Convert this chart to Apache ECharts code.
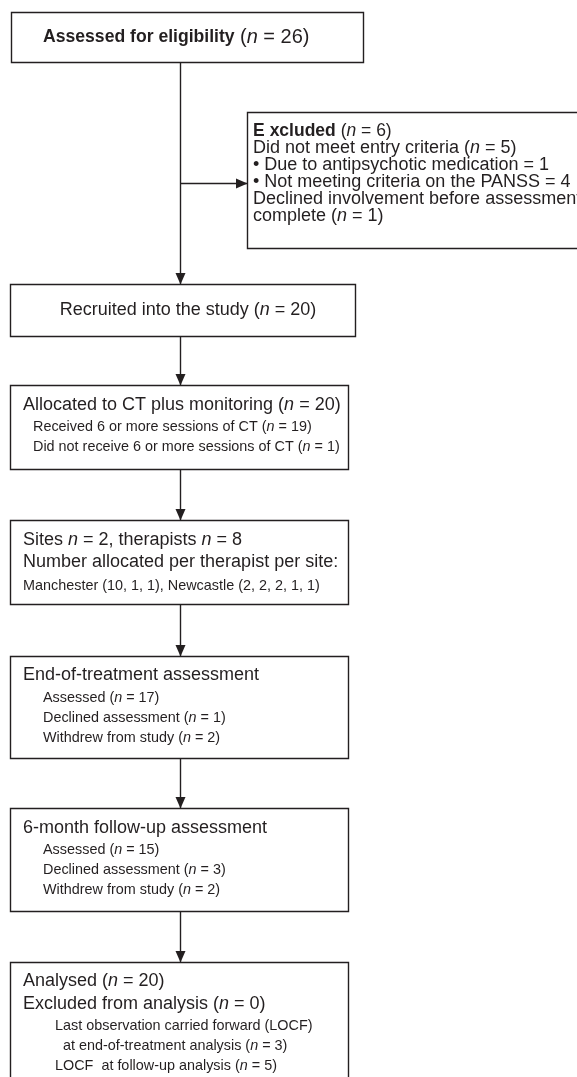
<!DOCTYPE html>
<html>
<head>
<meta charset="utf-8">
<script src="https://cdn.jsdelivr.net/npm/echarts@6/dist/echarts.min.js"></script>
<style>
  html, body { margin: 0; padding: 0; background: #fff; }
  #main { width: 577px; height: 1077px; }
</style>
</head>
<body>
<div id="main"></div>
<script>
// counts
var stageTitles = ['Assessed for eligibility', 'Recruited into the study', 'Allocated to CT plus monitoring',
  'End-of-treatment assessment', '6-month follow-up assessment', 'Analysed', 'Excluded from analysis']
var stageN = [26, 20, 20, null, null, 20, 0]
var excludedN = 6
var excludedReasons = ['Did not meet entry criteria', 'Due to antipsychotic medication',
  'Not meeting criteria on the PANSS', 'Declined involvement before assessment', 'complete']
var excludedReasonN = [5, 1, 4, null, 1]
var ctSessions = ['Received 6 or more sessions of CT', 'Did not receive 6 or more sessions of CT']
var ctSessionsN = [19, 1]
var sitesN = 2
var therapistsN = 8
var siteNames = ['Manchester', 'Newcastle']
var perTherapist = [[10, 1, 1], [2, 2, 2, 1, 1]]
var assessLabels = ['Assessed', 'Declined assessment', 'Withdrew from study']
var endTreatmentN = [17, 1, 2]
var followUpN = [15, 3, 2]
var locfLabels = ['Last observation carried forward (LOCF)', 'at end-of-treatment analysis', 'LOCF  at follow-up analysis']
var locfN = [null, 3, 5]

var FONT = '"Liberation Sans", Arial, sans-serif'
var INK = '#231f20'
var LW = 1.4

function nEq (v) { return '({i|n} = ' + v + ')' }

function richFor (size) {
  return {
    i: { fontStyle: 'italic', fontSize: size, fontFamily: FONT, fill: INK },
    b: { fontWeight: 'bold', fontSize: size, fontFamily: FONT, fill: INK }
  }
}

function label (x, y, text, size, align, weight) {
  return {
    type: 'text', x: x, y: y, z: 10,
    style: {
      text: text, fontSize: size, fontFamily: FONT, fill: INK,
      fontWeight: weight || 'normal',
      align: align || 'left', verticalAlign: 'middle', rich: richFor(size)
    }
  }
}

function box (x, y, w, h) {
  return {
    type: 'rect', z: 5,
    shape: { x: x + 0.5, y: y + 0.5, width: w, height: h },
    style: { fill: '#fff', stroke: INK, lineWidth: LW }
  }
}

function arrow (x1, y1, x2, y2) {
  var els = [{
    type: 'line', z: 4,
    shape: { x1: x1 + 0.5, y1: y1 + 0.5, x2: x2 + 0.5, y2: y2 + 0.5 },
    style: { stroke: INK, lineWidth: LW }
  }]
  var pts
  if (x1 === x2) {
    pts = [[x2 + 0.5, y2 + 0.5], [x2 - 4.5, y2 - 11], [x2 + 5.5, y2 - 11]]
  } else {
    pts = [[x2 + 0.5, y2 + 0.5], [x2 - 11, y2 - 4.5], [x2 - 11, y2 + 5.5]]
  }
  els.push({ type: 'polygon', z: 6, shape: { points: pts }, style: { fill: INK } })
  return els
}

var g = []
var cx = 180
var big = 18
var small = 14.4

// top box
g.push(box(11, 12, 352, 50))
g.push(label(43, 37, stageTitles[0], 17.6, 'left', 'bold'))
g.push(label(240, 37, nEq(stageN[0]), 20))

// excluded box
g.push(box(247, 112, 360, 136))
g.push(label(253, 131, '{b|E\u2009\u200axcluded} ' + nEq(excludedN), 17.5))
var exY = [148, 165, 182, 199, 216]
excludedReasons.forEach(function (t, k) {
  var s = t
  if (k === 1 || k === 2) s = '\u2022 ' + t + ' = ' + excludedReasonN[k]
  else if (excludedReasonN[k] != null) s = t + ' ' + nEq(excludedReasonN[k])
  g.push(label(253, exY[k], s, 18))
})
g = g.concat(arrow(cx, 183, 247, 183))
g = g.concat(arrow(cx, 62, cx, 284))

// recruited
g.push(box(10, 284, 345, 52))
g.push(label(188, 310, stageTitles[1] + ' ' + nEq(stageN[1]), big, 'center'))
g = g.concat(arrow(cx, 336, cx, 385))

// allocated
g.push(box(10, 385, 338, 84))
g.push(label(23, 405, stageTitles[2] + ' ' + nEq(stageN[2]), big))
ctSessions.forEach(function (t, k) {
  g.push(label(33, 427 + k * 20, t + ' ' + nEq(ctSessionsN[k]), small))
})
g = g.concat(arrow(cx, 469, cx, 520))

// sites / therapists
g.push(box(10, 520, 338, 84))
g.push(label(23, 540, 'Sites {i|n} = ' + sitesN + ', therapists {i|n} = ' + therapistsN, big))
g.push(label(23, 562, 'Number allocated per therapist per site:', big))
g.push(label(23, 586, siteNames.map(function (s, k) {
  return s + ' (' + perTherapist[k].join(', ') + ')'
}).join(', '), small))
g = g.concat(arrow(cx, 604, cx, 656))

// end of treatment
g.push(box(10, 656, 338, 102))
g.push(label(23, 675, stageTitles[3], big))
assessLabels.forEach(function (t, k) {
  g.push(label(43, 698 + k * 20, t + ' ' + nEq(endTreatmentN[k]), small))
})
g = g.concat(arrow(cx, 758, cx, 808))

// follow-up
g.push(box(10, 808, 338, 103))
g.push(label(23, 828, stageTitles[4], big))
assessLabels.forEach(function (t, k) {
  g.push(label(43, 850 + k * 20, t + ' ' + nEq(followUpN[k]), small))
})
g = g.concat(arrow(cx, 911, cx, 962))

// analysis
g.push(box(10, 962, 338, 140))
g.push(label(23, 981, stageTitles[5] + ' ' + nEq(stageN[5]), big))
g.push(label(23, 1004, stageTitles[6] + ' ' + nEq(stageN[6]), big))
var locfX = [55, 63, 55]
locfLabels.forEach(function (t, k) {
  var s = locfN[k] == null ? t : t + ' ' + nEq(locfN[k])
  g.push(label(locfX[k], 1026 + k * 20, s, small))
})

var chart = echarts.init(document.getElementById('main'), null, { renderer: 'canvas' })
chart.setOption({
  backgroundColor: '#fff',
  animation: false,
  graphic: { elements: g }
})
</script>
</body>
</html>
